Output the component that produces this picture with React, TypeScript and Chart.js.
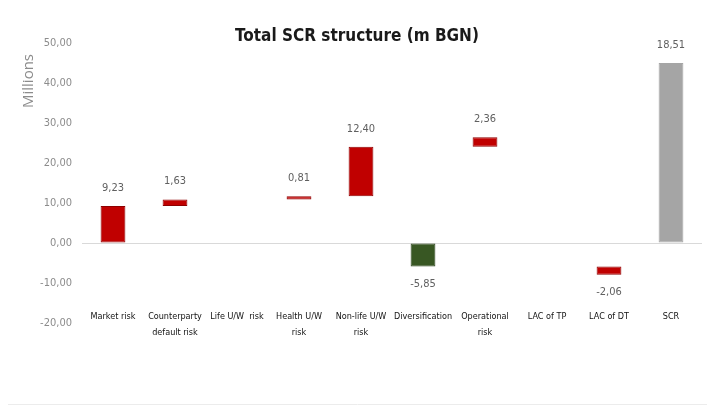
import React, { useEffect, useRef } from "react";
import { Chart, registerables } from "chart.js";

Chart.register(...registerables);

const categories: (string | string[])[] = [
  "Market risk",
  ["Counterparty", "default risk"],
  "Life U/W  risk",
  ["Health U/W", "risk"],
  ["Non-life U/W", "risk"],
  "Diversification",
  ["Operational", "risk"],
  "LAC of TP",
  "LAC of DT",
  "SCR",
];
const barStart: (number | null)[] = [0, 9.23, null, 10.86, 11.67, 0, 24.07, null, -5.85, 0];
const barEnd: (number | null)[] = [9.23, 10.86, null, 11.67, 24.07, -5.85, 26.43, null, -7.91, 45];
const labelValues: (number | null)[] = [9.23, 1.63, null, 0.81, 12.4, -5.85, 2.36, null, -2.06, 18.51];
const barKind: string[] = ["risk", "risk", "risk", "risk", "risk", "div", "risk", "risk", "risk", "total"];
const yTicks: number[] = [-20, -10, 0, 10, 20, 30, 40, 50];

const NARROW = "'Liberation Sans Narrow', 'DejaVu Sans Condensed', 'Liberation Sans', sans-serif";

const fill: Record<string, string> = { risk: "#C00000", div: "#385723", total: "#A5A5A5" };
const edge: Record<string, string> = { risk: "#8E0000", div: "#2B431B", total: "#A5A5A5" };

const fmt = (v: number) => v.toFixed(2).replace(".", ",");

export default function App() {
  const ref = useRef<HTMLCanvasElement | null>(null);
  useEffect(() => {
    if (!ref.current) return;
    const data = categories.map((_, i) =>
      barStart[i] === null || barEnd[i] === null ? null : [barStart[i] as number, barEnd[i] as number]
    );
    const extras = {
      id: "extras",
      afterDraw(chart: any) {
        const ctx = chart.ctx;
        const ys = chart.scales.y;
        const xs = chart.scales.x;
        const meta = chart.getDatasetMeta(0);
        ctx.save();
        // title
        ctx.fillStyle = "#1a1a1a";
        ctx.font = `bold 17px ${NARROW}`;
        ctx.textAlign = "center";
        ctx.textBaseline = "middle";
        ctx.fillText("Total SCR structure (m BGN)", 357, 37);
        // display unit
        ctx.save();
        ctx.translate(29, 81);
        ctx.rotate(-Math.PI / 2);
        ctx.fillStyle = "#8c8c8c";
        ctx.font = "15px 'Open Sans', 'Liberation Sans', sans-serif";
        ctx.fillText("Millions", 0, 0);
        ctx.restore();
        // category labels (Excel puts them at the low end, overlapping the plot bottom)
        ctx.fillStyle = "#111";
        ctx.font = `9px ${NARROW}`;
        categories.forEach((c, i) => {
          const lines = Array.isArray(c) ? c : [c];
          const x = xs.getPixelForValue(i);
          lines.forEach((ln, j) => ctx.fillText(ln, x, 317 + j * 16));
        });
        // data labels
        ctx.fillStyle = "#606060";
        ctx.font = `11px ${NARROW}`;
        labelValues.forEach((v, i) => {
          if (v === null || barEnd[i] === null) return;
          const el = meta.data[i];
          const end = barEnd[i] as number;
          const start = barStart[i] as number;
          const up = end >= start;
          const yPix = ys.getPixelForValue(end);
          ctx.fillText(fmt(v), el.x, up ? yPix - 18 : yPix + 18);
        });
        // bottom border
        ctx.strokeStyle = "#ececec";
        ctx.lineWidth = 1;
        ctx.beginPath();
        ctx.moveTo(8, 404.5);
        ctx.lineTo(707, 404.5);
        ctx.stroke();
        ctx.restore();
      },
    };
    const chart = new Chart(ref.current, {
      type: "bar",
      data: {
        labels: categories,
        datasets: [
          {
            data: data as any,
            backgroundColor: barKind.map((k) => fill[k]),
            borderColor: barKind.map((k) => edge[k]),
            borderWidth: 1,
            borderSkipped: false,
            categoryPercentage: 1,
            barPercentage: 0.4,
          },
        ],
      },
      options: {
        animation: false,
        responsive: false,
        maintainAspectRatio: false,
        layout: { padding: { left: 0, top: 43, right: 13, bottom: 0 } },
        plugins: { legend: { display: false }, tooltip: { enabled: false }, title: { display: false } },
        scales: {
          x: {
            grid: { display: false, drawTicks: false },
            border: { display: false },
            ticks: { display: false },
            afterFit: (s: any) => {
              s.height = 84;
            },
          },
          y: {
            min: -20,
            max: 50,
            afterBuildTicks: (s: any) => {
              s.ticks = yTicks.map((v) => ({ value: v }));
            },
            grid: {
              drawTicks: false,
              color: (c: any) => (c.tick && c.tick.value === 0 ? "#d9d9d9" : "rgba(0,0,0,0)"),
            },
            border: { display: false },
            ticks: {
              color: "#8c8c8c",
              font: { family: NARROW, size: 11 },
              padding: 10,
              callback: (v: any) => fmt(Number(v)),
            },
            afterFit: (s: any) => {
              s.width = 82;
            },
          },
        },
      },
      plugins: [extras],
    });
    return () => chart.destroy();
  }, []);
  return (
    <div style={{ position: "absolute", left: 0, top: 0, width: 715, height: 407, background: "#fff" }}>
      <canvas ref={ref} width={715} height={407} style={{ width: 715, height: 407 }} />
    </div>
  );
}
